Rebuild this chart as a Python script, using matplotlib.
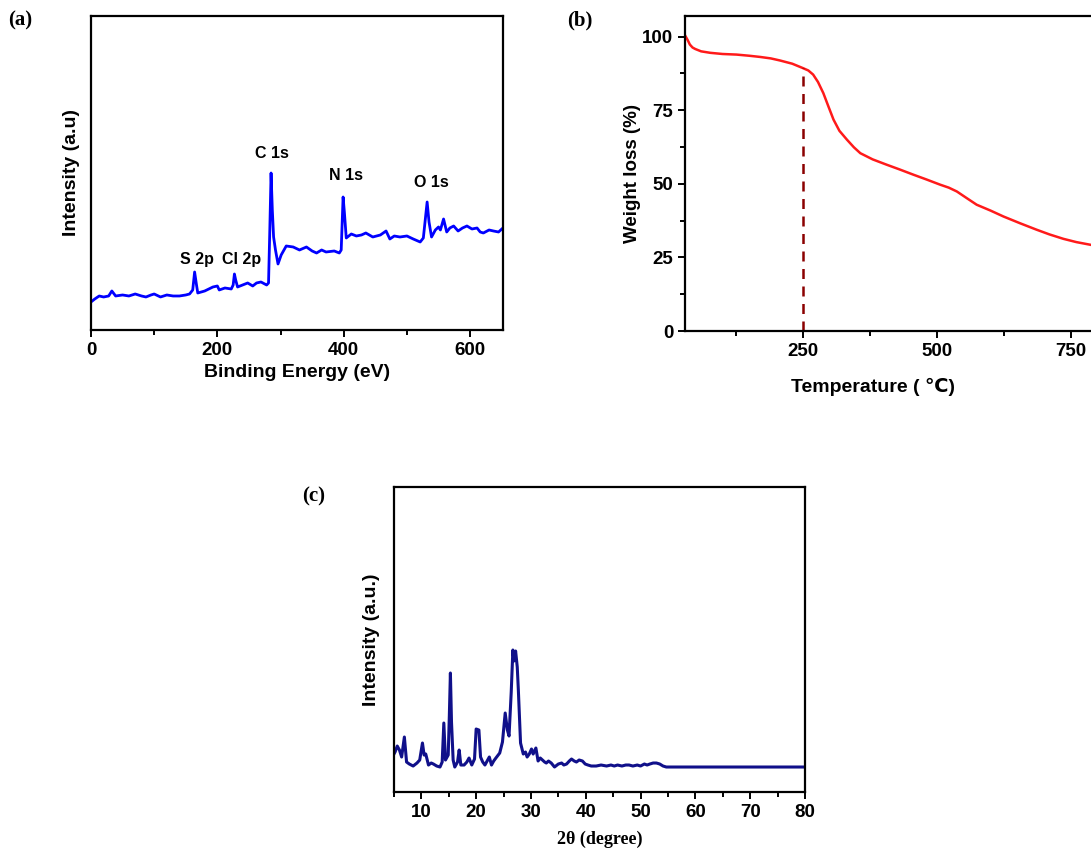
import matplotlib.pyplot as plt
from matplotlib.ticker import MultipleLocator

# 글꼴 설정
plt.rcParams['font.family'] = ['Liberation Sans', 'DejaVu Sans']
plt.rcParams['font.weight'] = 'bold'

# (a) XPS 데이터
xps_energy = [0, 6, 13, 20, 28, 33, 39, 50, 60, 70, 80, 87, 95, 100, 110, 120, 130, 140,
              150, 156, 161, 164, 167, 169, 180, 193, 200, 203, 212, 222, 225, 227, 229,
              232, 240, 248, 256, 262, 269, 278, 281, 283, 285, 287, 289, 292, 296, 301,
              309, 320, 330, 341, 350, 357, 365, 372, 385, 393, 396, 399, 401, 404, 412,
              420, 428, 435, 446, 458, 467, 473, 480, 489, 500, 510, 521, 526, 529, 532,
              535, 539, 545, 550, 553, 558, 563, 568, 574, 581, 588, 595, 603, 611, 616,
              621, 630, 637, 645, 652]
xps_intensity = [28, 31, 34, 33, 34, 39, 34, 35, 34, 36, 34, 33, 35, 36, 33, 35, 34, 34,
                 35, 36, 40, 58, 45, 37, 39, 43, 44, 40, 42, 41, 45, 56, 50,
                 43, 45, 47, 44, 47, 48, 45, 47, 100, 157, 120, 93, 80, 66, 75,
                 84, 83, 80, 83, 79, 77, 80, 78, 79, 77, 80, 133, 118, 92, 96,
                 94, 95, 97, 93, 95, 99, 91, 94, 93, 94, 91, 88, 92, 110, 128,
                 108, 93, 100, 103, 100, 111, 98, 102, 104, 99, 102, 104, 101, 102, 98,
                 97, 100, 99, 98, 102]

# (b) TGA 데이터
tga_temp = [31, 35, 39, 44, 49, 60, 77, 100, 126, 150, 170, 190, 207, 230, 250, 260, 269,
            278, 288, 297, 307, 318, 332, 345, 357, 380, 406, 430, 456, 480, 506, 522,
            537, 555, 574, 600, 624, 655, 686, 710, 736, 760, 786, 820, 850]
tga_weight = [100.1, 98.8, 97.3, 96.3, 95.8, 95.0, 94.5, 94.1, 93.9, 93.5, 93.1, 92.6,
              91.9, 90.8, 89.3, 88.5, 87.1, 84.6, 80.8, 76.5, 71.8, 68.0, 65.0, 62.4,
              60.4, 58.3, 56.5, 54.9, 53.1, 51.5, 49.7, 48.7, 47.4, 45.2, 42.9, 40.9,
              38.9, 36.6, 34.4, 32.8, 31.3, 30.2, 29.3, 28.0, 27.0]

# (c) XRD 데이터
xrd_angle = [5.0, 5.2, 5.6, 6.0, 6.4, 6.9, 7.3, 7.8, 8.5, 9.2, 9.7, 10.2, 10.5, 10.8, 11.3,
             11.8, 12.2, 12.8, 13.4, 13.8, 14.1, 14.4, 14.9, 15.1, 15.3, 15.5, 15.8, 16.1,
             16.6, 16.9, 17.2, 17.8, 18.3, 18.7, 19.2, 19.7, 20.0, 20.5, 20.8, 21.2,
             21.6, 22.0, 22.4, 22.8, 23.2, 23.6, 24.3, 24.8, 25.3, 25.7, 26.0, 26.4,
             26.7, 26.9, 27.2, 27.5, 27.7, 28.1, 28.6, 29.0, 29.3, 29.7, 30.1, 30.4,
             30.9, 31.3, 31.7, 32.1, 32.5, 32.8, 33.2, 33.7, 34.3, 35.0, 35.6, 36.0,
             36.5, 37.0, 37.4, 37.9, 38.3, 38.8, 39.4, 39.9, 40.4, 41.0, 41.9, 42.8,
             43.8, 44.6, 45.2, 45.8, 46.6, 47.3, 47.9, 48.6, 49.4, 50.0, 50.7, 51.2,
             51.7, 52.3, 52.9, 53.5, 54.1, 54.7, 57.0, 60.0, 64.0, 68.0, 72.0, 76.0, 80.0]
xrd_intensity = [38, 40, 46, 42, 35, 55, 30, 28, 26, 29, 32, 49, 37, 38, 27,
                 29, 28, 26, 25, 30, 69, 32, 37, 75, 119, 70, 32, 25,
                 30, 42, 27, 27, 30, 34, 27, 33, 63, 62, 35, 30,
                 27, 31, 35, 27, 31, 34, 39, 50, 79, 62, 56, 100,
                 142, 131, 141, 125, 102, 49, 38, 40, 35, 38, 43, 38,
                 44, 31, 34, 32, 30, 29, 31, 29, 25, 28, 29, 27,
                 28, 31, 33, 31, 30, 32, 31, 28, 27, 26, 26, 27,
                 26, 27, 26, 27, 26, 27, 27, 26, 27, 26, 28, 27,
                 28, 29, 29, 28, 26, 25, 25, 25, 25, 25, 25, 25, 25]


def style_axes(ax):
    for s in ax.spines.values():
        s.set_linewidth(1.6)
    ax.tick_params(which='both', direction='out', width=1.4, labelsize=13.5)
    ax.tick_params(which='major', length=5)
    ax.tick_params(which='minor', length=3.5)


fig = plt.figure(figsize=(10.91, 8.52), dpi=100)

# (a) XPS 스펙트럼
ax1 = fig.add_axes([0.0834, 0.6127, 0.3776, 0.3685])
ax1.plot(xps_energy, xps_intensity, color='#0000ff', lw=2)
ax1.set_xlim(0, 652)
ax1.set_ylim(0, 314)
ax1.xaxis.set_major_locator(MultipleLocator(200))
ax1.xaxis.set_minor_locator(MultipleLocator(100))
ax1.set_yticks([])
style_axes(ax1)
ax1.set_xlabel('Binding Energy (eV)', fontsize=14, fontweight='bold', labelpad=4)
ax1.set_ylabel('Intensity (a.u)', fontsize=14, fontweight='bold', labelpad=8)
for label, e, v in [('C 1s', 286, 177), ('N 1s', 403, 154), ('O 1s', 538, 147),
                    ('S 2p', 167, 70), ('Cl 2p', 238, 70)]:
    ax1.text(e, v, label, ha='center', va='center', fontsize=11.5, fontweight='bold')

# (b) TGA 곡선 (오른쪽은 그림 밖으로 잘림)
ax2 = fig.add_axes([0.6279, 0.6115, 0.4029, 0.3697])
ax2.plot(tga_temp, tga_weight, color='#ff1a1a', lw=1.8)
ax2.plot([250, 250], [0, 89.3], color='#8b0000', lw=1.8, ls=(0, (4, 3)))
ax2.set_xlim(30, 850)
ax2.set_ylim(0, 107)
ax2.xaxis.set_major_locator(MultipleLocator(250))
ax2.xaxis.set_minor_locator(MultipleLocator(125))
ax2.yaxis.set_major_locator(MultipleLocator(25))
ax2.yaxis.set_minor_locator(MultipleLocator(12.5))
style_axes(ax2)
ax2.set_xlabel('Temperature ( ℃)', fontsize=14, fontweight='bold')
ax2.xaxis.set_label_coords(0.428, -0.15)
ax2.set_ylabel('Weight loss (%)', fontsize=13.5, fontweight='bold', labelpad=1)

# (c) XRD 패턴
ax3 = fig.add_axes([0.3611, 0.0704, 0.3767, 0.358])
ax3.plot(xrd_angle, xrd_intensity, color='#10108a', lw=2.2)
ax3.set_xlim(5, 80)
ax3.set_ylim(0, 305)
ax3.xaxis.set_major_locator(MultipleLocator(10))
ax3.xaxis.set_minor_locator(MultipleLocator(5))
ax3.set_yticks([])
style_axes(ax3)
ax3.set_xlabel('2θ (degree)', fontsize=13, fontweight='bold', family='Liberation Serif', labelpad=7)
ax3.set_ylabel('Intensity (a.u.)', fontsize=14, fontweight='bold', labelpad=10)

# 패널 라벨
fig.text(0.007, 0.976, '(a)', fontsize=15, fontweight='bold', family='Liberation Serif', va='center')
fig.text(0.520, 0.976, '(b)', fontsize=15, fontweight='bold', family='Liberation Serif', va='center')
fig.text(0.277, 0.417, '(c)', fontsize=15, fontweight='bold', family='Liberation Serif', va='center')

fig.savefig('out.png', dpi=100)
